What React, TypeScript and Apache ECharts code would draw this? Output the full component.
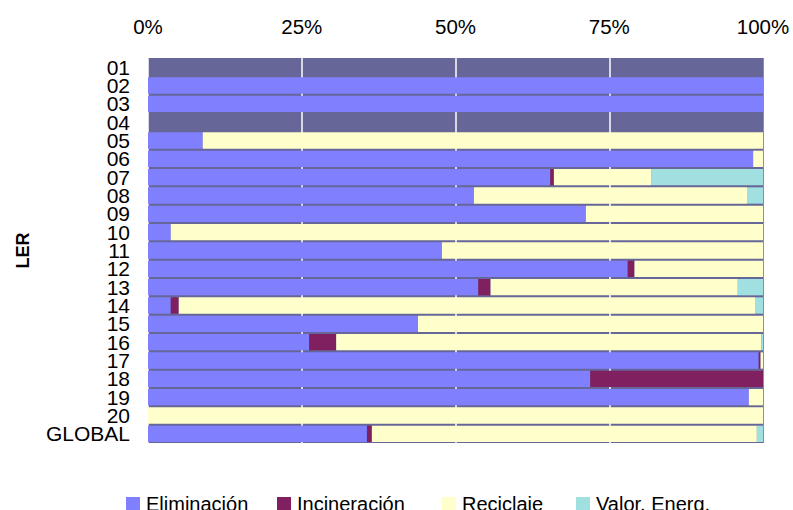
import React, { useEffect, useRef } from "react";
import * as echarts from "echarts";

// LER codes, top to bottom
const categories = [
  "01", "02", "03", "04", "05", "06", "07", "08", "09", "10",
  "11", "12", "13", "14", "15", "16", "17", "18", "19", "20", "GLOBAL",
];

// Share of each treatment per LER code (%)
const eliminacion = [0, 100, 100, 0, 8.9, 98.4, 65.4, 53.0, 71.2, 3.7, 47.8, 78.0, 53.7, 3.7, 43.9, 26.2, 99.3, 71.9, 97.7, 0, 35.6];
const incineracion = [0, 0, 0, 0, 0, 0, 0.6, 0, 0, 0, 0, 1.1, 2.0, 1.3, 0, 4.4, 0.3, 28.1, 0, 0, 0.8];
const reciclaje = [0, 0, 0, 0, 91.1, 1.6, 15.8, 44.4, 28.8, 96.3, 52.2, 20.9, 40.2, 93.7, 56.1, 69.1, 0.4, 0, 2.3, 100, 62.6];
const valorEnerg = [0, 0, 0, 0, 0, 0, 18.2, 2.6, 0, 0, 0, 0, 4.1, 1.3, 0, 0.3, 0, 0, 0, 0, 1.0];

const seriesNames = ["Eliminación", "Incineración", "Reciclaje", "Valor. Energ."];
const seriesColors = ["#8080ff", "#802060", "#ffffcc", "#a0e0e0"];
const seriesData = [eliminacion, incineracion, reciclaje, valorEnerg];

// left edge of each legend entry
const legendLeft = [126, 277, 442, 576];

const FONT = "'Liberation Sans', Arial, sans-serif";

export default function App() {
  const ref = useRef<HTMLDivElement>(null);

  useEffect(() => {
    if (!ref.current) return;
    const chart = echarts.init(ref.current, null, { renderer: "svg" });
    chart.setOption({
      animation: false,
      textStyle: { fontFamily: FONT },
      grid: {
        left: 148,
        right: 30,
        top: 58,
        bottom: 67,
        show: true,
        backgroundColor: "#666699",
        borderWidth: 0,
      },
      legend: seriesNames.map((name, i) => ({
        left: legendLeft[i],
        top: 494,
        padding: 0,
        itemWidth: 14,
        itemHeight: 14,
        itemGap: 0,
        icon: "rect",
        textStyle: { fontFamily: FONT, fontSize: 20, color: "#000", padding: [0, 0, 0, 1] },
        data: [name],
      })),
      xAxis: {
        type: "value",
        position: "top",
        min: 0,
        max: 100,
        interval: 25,
        axisLine: { show: false },
        axisTick: { show: false },
        axisLabel: {
          formatter: "{value}%",
          fontSize: 20.5,
          color: "#000",
          fontFamily: FONT,
          margin: 21,
        },
        splitLine: {
          show: true,
          lineStyle: {
            color: ["#ffffff", "#ffffff", "#ffffff", "#ffffff", "#666699"],
            width: 1.5,
          },
        },
      },
      yAxis: {
        type: "category",
        inverse: true,
        data: categories,
        name: "LER",
        nameLocation: "middle",
        nameGap: 116,
        nameRotate: 90,
        nameTextStyle: { fontFamily: FONT, fontSize: 18, fontWeight: "bold", color: "#000" },
        axisLine: { show: false },
        axisTick: { show: false },
        axisLabel: {
          interval: 0,
          fontSize: 21,
          color: "#000",
          fontFamily: FONT,
          margin: 18,
          lineHeight: 18,
        },
        splitLine: { show: false },
      },
      series: seriesNames.map((name, i) => ({
        name,
        type: "bar",
        stack: "total",
        barCategoryGap: "11%",
        itemStyle: { color: seriesColors[i] },
        data: seriesData[i],
      })),
    });
    return () => chart.dispose();
  }, []);

  return <div ref={ref} style={{ width: 793, height: 510, position: "absolute", left: 0, top: 0 }} />;
}
